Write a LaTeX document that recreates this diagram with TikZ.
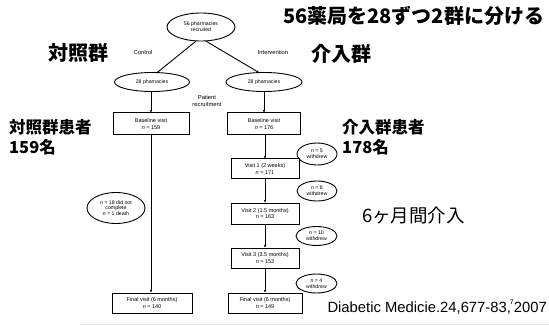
\documentclass[tikz,border=0pt]{standalone}
\usepackage{fontspec}
\setmainfont{Liberation Sans}
\newfontfamily\jp{Noto Sans CJK JP}
\usetikzlibrary{shapes.geometric,arrows.meta}
\tikzset{
  ov/.style={ellipse,draw,line width=0.9pt,inner sep=0pt,align=center,font=\fontsize{5.2}{5.8}\selectfont},
  bx/.style={rectangle,draw,line width=1pt,inner sep=0pt,align=center,font=\fontsize{5.5}{6.6}\selectfont},
  lbl/.style={font=\fontsize{5.8}{6.8}\selectfont,align=center,inner sep=0pt},
  jpbold/.style={font=\jp\bfseries\fontsize{20}{23}\selectfont,inner sep=0pt},
  jpmid/.style={font=\jp\bfseries\fontsize{16.5}{19.5}\selectfont,inner sep=0pt,align=left},
  ar/.style={line width=0.9pt,-{Stealth[length=2.8pt,width=2.4pt]}},
  ln/.style={line width=0.9pt,-{Circle[length=1.8pt]}}
}
\begin{document}
\begin{tikzpicture}[x=1pt,y=-1pt]
\useasboundingbox (0,0) rectangle (549,326);
\fill[white] (0,0) rectangle (549,326);
% diagram
\node[ov,minimum width=68pt,minimum height=28pt] (top) at (201,27) {56 pharmacies\\recruited};
\node[ov,minimum width=75pt,minimum height=19pt] (l28) at (152,82) {28 phamacies};
\node[ov,minimum width=76pt,minimum height=19pt] (r28) at (264,82) {28 phamacies};
\node[lbl] (ctl) at (143,52) {Control};
\node[lbl] (itv) at (273,52) {Intervention};
\node[lbl] (pr) at (207,101) {Patient\\recruitment};

\node[bx,minimum width=76pt,minimum height=22pt] (lb) at (151,124) {Baseline visit\\\textit{n} = 159};
\node[bx,minimum width=73pt,minimum height=22pt] (rb) at (264,124) {Baseline visit\\\textit{n} = 176};
\node[bx,minimum width=68pt,minimum height=20pt] (v1) at (265,169) {Visit 1 (2 weeks)\\\textit{n} = 171};
\node[bx,minimum width=68pt,minimum height=21pt] (v2) at (265,213.5) {Visit 2 (1.5 months)\\\textit{n} = 163};
\node[bx,minimum width=68pt,minimum height=20pt] (v3) at (265,258) {Visit 3 (3.5 months)\\\textit{n} = 153};
\node[bx,minimum width=74pt,minimum height=20pt] (rf) at (265,303) {Final visit (6 months)\\\textit{n} = 149};
\node[bx,minimum width=80pt,minimum height=20pt] (lf) at (152,303) {Final visit (6 months)\\\textit{n} = 140};

\node[ov,minimum width=58pt,minimum height=31pt] (ldrop) at (116,208) {\textit{n} = 18 did not\\complete\\\textit{n} = 1 death};
\node[ov,minimum width=40pt,minimum height=22pt] (w1) at (317,154) {\textit{n} = 5\\withdrew};
\node[ov,minimum width=40pt,minimum height=20pt] (w2) at (317,191) {\textit{n} = 8\\withdrew};
\node[ov,minimum width=41pt,minimum height=19pt] (w3) at (316.5,236) {\textit{n} = 10\\withdrew};
\node[ov,minimum width=41pt,minimum height=19pt] (w4) at (316.5,283.5) {\textit{n} = 4\\withdrew};

\draw[ln] (top.250) -- (l28.60);
\draw[ln] (top.290) -- (r28.120);
\draw[ar] (l28.south -| lb.north) -- (lb.north);
\draw[ar] (r28.south -| rb.north) -- (rb.north);
\draw[ar] (lb.south) -- (lb.south |- lf.north);
\draw[ar] (rb.south -| v1.north) -- (v1.north);
\draw[ar] (v1) -- (v2);
\draw[ar] (v2) -- (v3);
\draw[ar] (v3) -- (rf);

% Japanese annotations
\node[jpbold,anchor=west] (t1) at (283,16) {56薬局を28ずつ2群に分ける};
\node[jpbold,anchor=west] (t2) at (48,53) {対照群};
\node[jpbold,anchor=west] (t3) at (311,54) {介入群};
\node[jpmid,anchor=west] (t4) at (9,137) {対照群患者\\159名};
\node[jpmid,anchor=west] (t5) at (342,137) {介入群患者\\178名};
\node[font=\jp\fontsize{18.5}{20}\selectfont,inner sep=0pt,anchor=west] (t6) at (362,215) {6ヶ月間介入};
\node[font=\fontsize{14.8}{16}\selectfont,inner sep=0pt,anchor=east] (cite) at (547,307) {Diabetic Medicie.24,677-83,\kern-1pt\raisebox{1.0ex}{\fontsize{7}{7}\selectfont 7}2007};
\draw[gray!18,line width=1pt] (80,324.5) -- (549,324.5);
\end{tikzpicture}
\end{document}
